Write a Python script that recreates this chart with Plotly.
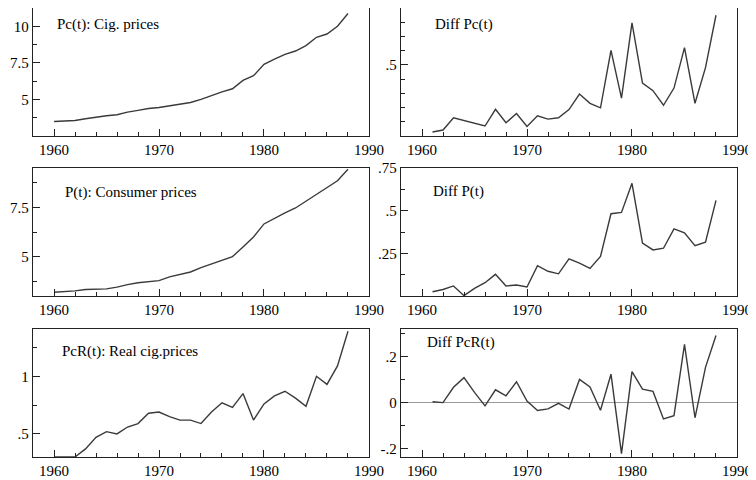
import plotly.graph_objects as go

years = list(range(1960, 1989))
diff_years = list(range(1961, 1989))

pc = [3.49, 3.52, 3.56, 3.68, 3.79, 3.88, 3.95, 4.13, 4.25, 4.38, 4.45, 4.57, 4.68, 4.79,
      5.00, 5.27, 5.52, 5.73, 6.30, 6.62, 7.40, 7.76, 8.08, 8.31, 8.68, 9.25, 9.47, 10.0, 10.87]
p = [3.19, 3.21, 3.26, 3.33, 3.33, 3.36, 3.45, 3.58, 3.67, 3.72, 3.78, 3.97, 4.10, 4.22,
     4.44, 4.63, 4.80, 5.00, 5.49, 6.00, 6.66, 6.95, 7.22, 7.47, 7.82, 8.18, 8.50, 8.85, 9.44]
pcr = [0.30, 0.30, 0.30, 0.37, 0.47, 0.52, 0.50, 0.56, 0.59, 0.68, 0.69, 0.65, 0.62, 0.62,
       0.59, 0.69, 0.77, 0.73, 0.85, 0.62, 0.76, 0.83, 0.87, 0.81, 0.74, 1.00, 0.93, 1.09, 1.39]
d_pc = [0.028, 0.042, 0.128, 0.109, 0.09, 0.07, 0.188, 0.093, 0.158, 0.067, 0.142, 0.119, 0.128,
        0.186, 0.295, 0.23, 0.198, 0.602, 0.267, 0.795, 0.372, 0.319, 0.216, 0.337, 0.621, 0.23,
        0.481, 0.849]
d_p = [0.025, 0.038, 0.059, 0.002, 0.045, 0.078, 0.127, 0.059, 0.064, 0.053, 0.178, 0.145, 0.13,
       0.217, 0.193, 0.162, 0.232, 0.482, 0.49, 0.66, 0.31, 0.27, 0.28, 0.393, 0.37, 0.295,
       0.315, 0.56]
d_pcr = [0.003, -0.001, 0.066, 0.108, 0.044, -0.015, 0.055, 0.029, 0.09, 0.006, -0.035, -0.028,
         -0.004, -0.029, 0.10, 0.067, -0.034, 0.123, -0.223, 0.134, 0.058, 0.048, -0.072, -0.058,
         0.253, -0.067, 0.153, 0.292]

titles = ["Pc(t): Cig. prices", "Diff Pc(t)", "P(t): Consumer prices", "Diff P(t)",
          "PcR(t): Real cig.prices", "Diff PcR(t)"]

x_ticks = [1960, 1970, 1980, 1990]
x_tick_labels = ["1960", "1970", "1980", "1990"]

panels = [
    dict(x=years, y=pc, rng=[2.5, 11.25], tv=[5, 7.5, 10], tt=["5", "7.5", "10"],
         mv=[2.5, 3.75, 6.25, 8.75, 11.25]),
    dict(x=diff_years, y=d_pc, rng=[0, 0.9], tv=[0.5], tt=[".5"],
         mv=[0.1, 0.2, 0.3, 0.4, 0.6, 0.7, 0.8]),
    dict(x=years, y=p, rng=[3.0, 9.5], tv=[5, 7.5], tt=["5", "7.5"],
         mv=[3.75, 6.25, 8.75]),
    dict(x=diff_years, y=d_p, rng=[0, 0.75], tv=[0.25, 0.5, 0.75], tt=[".25", ".5", ".75"],
         mv=[0.125, 0.375, 0.625]),
    dict(x=years, y=pcr, rng=[0.3, 1.41], tv=[0.5, 1], tt=[".5", "1"],
         mv=[0.75, 1.25]),
    dict(x=diff_years, y=d_pcr, rng=[-0.238, 0.32], tv=[-0.2, 0, 0.2], tt=["-.2", "0", ".2"],
         mv=[-0.1, 0.1, 0.3]),
]

# The page body adds an 8px margin; lay out in reference pixels minus that offset.
OFF = 8
W, H = 756 - OFF, 480 - OFF
left_px = [(33, 369), (401, 737)]
row_px = [(8, 136), (168, 296), (329, 457)]
ml = left_px[0][0] - OFF
mr = W - (left_px[1][1] - OFF)
mt = row_px[0][0] - OFF
mb = H - (row_px[2][1] - OFF)
pw, ph = W - ml - mr, H - mt - mb
col_dom = [[(a - OFF - ml) / pw, (b - OFF - ml) / pw] for a, b in left_px]
row_dom = [[1 - (b - OFF - mt) / ph, 1 - (t - OFF - mt) / ph] for t, b in row_px]

# annotation anchors (reference px): text left x, center y
ann_px = [(55, 24), (433, 24), (63, 192), (431, 191), (60, 351), (425, 342)]

font = dict(family="Liberation Serif", size=15, color="black")
axcol = "#222222"

fig = go.Figure()
layout = dict(width=W, height=H, margin=dict(l=ml, r=mr, t=mt, b=mb, autoexpand=False),
              paper_bgcolor="white", plot_bgcolor="white", showlegend=False, font=font,
              annotations=[])

for i, pn in enumerate(panels):
    r, c = divmod(i, 2)
    n = i + 1
    xa = "x" if n == 1 else f"x{n}"
    ya = "y" if n == 1 else f"y{n}"
    fig.add_trace(go.Scatter(x=pn["x"], y=pn["y"], mode="lines", xaxis=xa, yaxis=ya,
                             line=dict(color="#3a3a3a", width=1.4), cliponaxis=True))
    xkey = "xaxis" if n == 1 else f"xaxis{n}"
    ykey = "yaxis" if n == 1 else f"yaxis{n}"
    layout[xkey] = dict(domain=col_dom[c], anchor=ya, range=[1958, 1990.001],
                        tickmode="array", tickvals=x_ticks, ticktext=x_tick_labels,
                        ticks="inside", ticklen=7, tickwidth=1, tickcolor=axcol,
                        minor=dict(tickmode="array", tickvals=list(range(1958, 1991, 2)),
                                   ticks="inside", ticklen=4, tickwidth=1, tickcolor=axcol),
                        showline=True, linecolor=axcol, linewidth=1.3, mirror=True,
                        showgrid=False, zeroline=False, tickfont=font, fixedrange=True,
                        automargin=False)
    layout[ykey] = dict(domain=row_dom[r], anchor=xa, range=pn["rng"],
                        tickmode="array", tickvals=pn["tv"], ticktext=pn["tt"],
                        ticks="inside", ticklen=7, tickwidth=1, tickcolor=axcol,
                        minor=dict(tickmode="array", tickvals=pn["mv"],
                                   ticks="inside", ticklen=4, tickwidth=1, tickcolor=axcol),
                        showline=True, linecolor=axcol, linewidth=1.3, mirror=True,
                        showgrid=False, zeroline=(i == 5), zerolinecolor="#999999",
                        zerolinewidth=1, tickfont=font, fixedrange=True, automargin=False)
    ax_px, ay_px = ann_px[i]
    layout["annotations"].append(dict(text=titles[i], xref="paper", yref="paper",
                                      x=(ax_px - OFF - ml) / pw,
                                      y=1 - (ay_px - OFF - mt) / ph,
                                      xanchor="left", yanchor="middle", showarrow=False,
                                      font=font))

fig.update_layout(**layout)
fig.write_html("out.html")
